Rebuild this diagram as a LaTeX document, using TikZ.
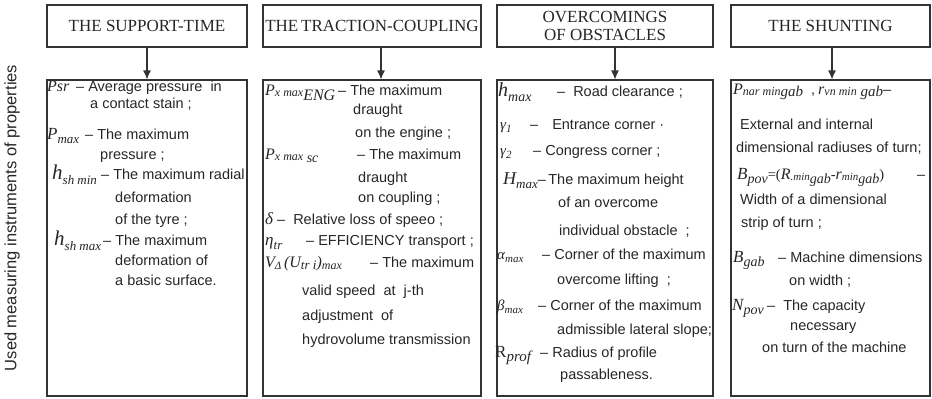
\documentclass[tikz,border=0pt]{standalone}
\usepackage{fontspec}
\setmainfont{Liberation Sans}
\newfontfamily\tms{Liberation Serif}
\usetikzlibrary{arrows.meta}
\definecolor{ink}{HTML}{262626}
\definecolor{frame}{HTML}{333333}
\newcommand\rowA[6]{\node[txt] (#1) at (#2,#3) {\makebox[#4pt][l]{#5}#6};}
\newcommand\rowB[4]{\node[txt] (#1) at (#2,#3) {#4};}
% italic serif symbol with lowered subscript: sizes, main, sub
\newcommand\V[4]{{\tms\itshape\fontsize{#1}{#1}\selectfont #3\raisebox{-0.22em}{\fontsize{#2}{#2}\selectfont #4}}}
\newcommand\Sz[2]{{\tms\itshape\fontsize{#1}{#1}\selectfont #2}}
\newcommand\Lo[3]{\raisebox{-#1pt}{\tms\itshape\fontsize{#2}{#2}\selectfont #3}}
\begin{document}
\begin{tikzpicture}[x=1pt,y=-1pt,
  hbox/.style={draw=frame, line width=1.1pt, rectangle, minimum height=42pt, inner sep=0pt,
     font=\tms\fontsize{17}{18}\selectfont, text=ink, align=center},
  lbox/.style={draw=frame, line width=1.1pt, rectangle, minimum height=316pt, inner sep=0pt},
  arr/.style={draw=frame, line width=1.1pt, -{Latex[length=9pt,width=8pt]}},
  txt/.style={anchor=mid west, inner sep=0pt, font=\fontsize{14.5}{17}\selectfont, text=ink}]
\useasboundingbox (0,0) rectangle (932,399);

% headers
\node[hbox, minimum width=200pt] (h1) at (147,26) {THE SUPPORT-TIME};
\node[hbox, minimum width=218pt] (h2) at (372,26) {THE\,TRACTION-COUPLING};
\node[hbox, minimum width=216pt] (h3) at (605,26) {OVERCOMINGS\\OF OBSTACLES};
\node[hbox, minimum width=199pt] (h4) at (830.5,26) {THE SHUNTING};

% lower boxes
\node[lbox, minimum width=200pt] (b1) at (147,238) {};
\node[lbox, minimum width=218pt] (b2) at (372,238) {};
\node[lbox, minimum width=216pt] (b3) at (605,238) {};
\node[lbox, minimum width=199pt] (b4) at (830.5,238) {};

% arrows
\draw[arr] (h1.south) -- (b1.north);
\draw[arr] ([xshift=9pt]h2.south) -- ([xshift=9pt]b2.north);
\draw[arr] ([xshift=10pt]h3.south) -- ([xshift=10pt]b3.north);
\draw[arr] ([xshift=1.5pt]h4.south) -- ([xshift=1.5pt]b4.north);

% side label
\node[rotate=90, inner sep=0pt, font=\fontsize{16.5}{18}\selectfont, text=ink] (side) at (12,218) {Used measuring instruments of properties};

% column 1
\rowA{a1}{47}{89}{29}{\Sz{16}{Psr}}{– Average pressure \ in}
\rowB{a2}{90}{106}{a contact stain ;}
\rowA{a3}{47}{137}{38}{\V{17}{13}{P}{max}}{– The maximum}
\rowB{a4}{100}{157}{pressure ;}
\rowA{a5}{52}{177}{49}{\V{21}{13}{h}{sh min}}{– The maximum radial}
\rowB{a6}{115}{200}{deformation}
\rowB{a7}{115}{222}{of the tyre ;}
\rowA{a8}{54}{243}{49}{\V{21}{13}{h}{sh max}}{– The maximum}
\rowB{a9}{115}{263}{deformation of}
\rowB{a10}{115}{283}{a basic surface.}

% column 2
\rowA{c1}{265}{93}{73}{\Sz{16}{P}\Lo{1}{12}{x max}\Lo{5}{16}{ENG}}{– The maximum}
\rowB{c2}{353}{112}{draught}
\rowB{c3}{355}{135}{on the engine ;}
\rowA{c4}{265}{157}{92}{\Sz{16}{P}\Lo{1}{12}{x max}\Lo{3}{14}{ sc}}{– The maximum}
\rowB{c5}{358}{180}{draught}
\rowB{c6}{358}{200}{on coupling ;}
\rowA{c7}{265}{222}{12}{\Sz{17}{δ}}{–\hspace{8pt}Relative loss of speeo ;}
\rowA{c8}{265}{243}{41}{\V{17}{13}{η}{tr}}{– EFFICIENCY transport ;}
\rowA{c9}{265}{265}{105}{\Sz{16}{V}\Lo{2}{11}{Δ}\Sz{16}{\,(U}\Lo{2}{13}{tr i}\Sz{16}{)}\Lo{2}{12}{max}}{– The maximum}
\rowB{c10}{302}{293}{valid speed \ at \ j-th}
\rowB{c11}{302}{318}{adjustment \ of}
\rowB{c12}{302}{342}{hydrovolume transmission}

% column 3
\rowA{d1}{498}{94}{59}{\V{20}{14}{h}{max}}{–\hspace{8pt}Road clearance ;}
\rowA{d2}{500}{127}{30}{\V{15}{11}{γ}{1}}{–\hspace{14pt}Entrance corner ·}
\rowA{d3}{500}{153}{33}{\V{15}{11}{γ}{2}}{– Congress corner ;}
\rowB{d4}{503}{182}{\V{18}{13}{H}{max}–\,The maximum height}
\rowB{d5}{558}{205}{of an overcome}
\rowB{d6}{559}{233}{individual obstacle \ ;}
\rowA{d7}{497}{257}{45}{\V{15}{11}{α}{max}}{– Corner of the maximum}
\rowB{d8}{557}{282}{overcome lifting \ ;}
\rowA{d9}{497}{308}{41}{\V{15}{11}{β}{max}}{– Corner of the maximum}
\rowB{d10}{557}{332}{admissible lateral slope;}
\rowA{d11}{495}{355}{45}{{\tms\fontsize{17}{17}\selectfont R}\Lo{4}{15}{prof}}{– Radius of profile}
\rowB{d12}{560}{377}{passableness.}

% column 4
\rowA{e1}{733}{92}{85}{\Sz{16}{P}\Lo{1}{12}{nar min}\Lo{2}{15}{gab}\ \ ,\hfill}{\Sz{16}{r}\Lo{1}{12}{vn min}\Lo{2}{15}{ gab}–}
\rowB{e2}{740}{127}{External and internal}
\rowB{e3}{736}{150}{dimensional radiuses of turn;}
\rowA{e4}{737}{177}{180}{\V{17}{14}{B}{pov}{\tms =(}\Sz{16}{R}\Lo{1}{11}{.min}\Lo{4}{14}{gab}{\tms -}\Sz{16}{r}\Lo{1}{11}{min}\Lo{4}{14}{gab}{\tms )}}{–}
\rowB{e5}{740}{202}{Width of a dimensional}
\rowB{e6}{741}{225}{strip of turn ;}
\rowA{e7}{733}{260}{45}{\V{17}{14}{B}{gab}}{– Machine dimensions}
\rowB{e8}{789}{283}{on width ;}
\rowA{e9}{732}{308}{35}{\V{17}{14}{N}{pov}}{–\hspace{8pt}The capacity}
\rowB{e10}{790}{328}{necessary}
\rowB{e11}{762}{350}{on turn of the machine}
\end{tikzpicture}
\end{document}
